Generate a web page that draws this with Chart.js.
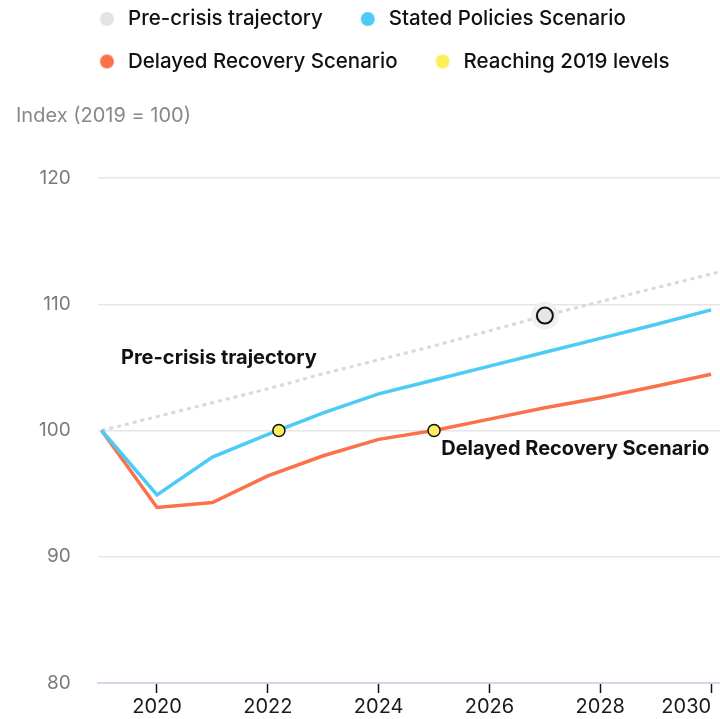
<!DOCTYPE html>
<html>
<head>
<meta charset="utf-8">
<script src="https://cdn.jsdelivr.net/npm/chart.js@4.4.1/dist/chart.umd.min.js"></script>
<style>
  html, body { margin: 0; padding: 0; background: #fff; overflow: hidden; }
  #wrap { width: 720px; height: 719px; }
  canvas { display: block; }
</style>
</head>
<body>
<div id="wrap"><canvas id="myChart"></canvas></div>
<script>
// years on the x axis (pre-crisis runs one year past the edge so it reaches the border)
const years = [2019, 2020, 2021, 2022, 2023, 2024, 2025, 2026, 2027, 2028, 2029, 2030, 2031];
const preCrisis = [100, 101.1, 102.2, 103.3, 104.5, 105.6, 106.7, 107.9, 109.1, 110.2, 111.3, 112.4, 113.5];
const statedPolicies = [100, 94.9, 97.9, 99.7, 101.4, 102.9, 104.0, 105.1, 106.2, 107.3, 108.4, 109.55];
const delayedRecovery = [100, 93.9, 94.3, 96.4, 98.0, 99.3, 100.0, 100.9, 101.8, 102.6, 103.5, 104.45];

// points where the scenarios get back to 2019 levels
const reachYears = [2022.2, 2025];
const reachValues = [100, 100];

// highlighted pre-crisis point (2027)
const highlightYear = 2027;

const xTicks = [2020, 2022, 2024, 2026, 2028, 2030];
const yTicks = [80, 90, 100, 110, 120];

const seriesNames = ['Pre-crisis trajectory', 'Stated Policies Scenario', 'Delayed Recovery Scenario', 'Reaching 2019 levels'];
const legendColors = ['#e3e3e3', '#4ccbf7', '#fb7149', '#fbef5a'];

const FONT = 'Inter, "Open Sans", sans-serif';

function toPoints(values) {
    return values.map((v, i) => ({ x: years[i], y: v }));
}

// legend dot drawn a little to the right inside its box, so the gap before it is wider
function makeDot(color) {
    const c = document.createElement('canvas');
    c.width = 30;
    c.height = 16;
    const g = c.getContext('2d');
    g.fillStyle = color;
    g.beginPath();
    g.arc(21.1, 8, 7, 0, Math.PI * 2);
    g.fill();
    return c;
}
const legendDots = legendColors.map(makeDot);

// labels written next to the lines
const lineLabels = {
    id: 'lineLabels',
    afterDatasetsDraw(chart, args, opts) {
        const { ctx, scales: { x, y } } = chart;
        ctx.save();
        ctx.font = '700 20px ' + FONT;
        ctx.fillStyle = '#111';
        ctx.textBaseline = 'middle';
        ctx.textAlign = 'left';
        opts.items.forEach(item => {
            ctx.fillText(item.text, x.getPixelForValue(item.x), y.getPixelForValue(item.y));
        });
        ctx.restore();
    }
};

// move the legend so both rows start under each other at the left
const legendShift = {
    id: 'legendShift',
    beforeDraw(chart) {
        chart.legend.left = 62;
        chart.legend.top = -13.25;
    }
};

const highlightIndex = years.indexOf(highlightYear);

const ctx = document.getElementById('myChart');
const myChart = new Chart(ctx, {
    type: 'line',
    data: {
        datasets: [
            {
                label: seriesNames[0],
                data: toPoints(preCrisis),
                borderColor: '#d9d9d9',
                borderWidth: 3,
                borderDash: [4, 4],
                pointRadius: c => c.dataIndex === highlightIndex ? 8 : 0,
                pointBackgroundColor: '#e6e6e6',
                pointBorderColor: '#111',
                pointBorderWidth: 2,
                order: 4
            },
            {
                label: seriesNames[1],
                data: toPoints(statedPolicies),
                borderColor: legendColors[1],
                backgroundColor: legendColors[1],
                borderWidth: 3.5,
                pointRadius: 0,
                order: 2
            },
            {
                label: seriesNames[2],
                data: toPoints(delayedRecovery),
                borderColor: legendColors[2],
                backgroundColor: legendColors[2],
                borderWidth: 3.5,
                pointRadius: 0,
                order: 3
            },
            {
                label: seriesNames[3],
                type: 'scatter',
                data: reachYears.map((x, i) => ({ x, y: reachValues[i] })),
                backgroundColor: legendColors[3],
                borderColor: '#111',
                borderWidth: 1.5,
                pointRadius: 6,
                order: 1
            },
            {
                label: 'halo',
                type: 'scatter',
                data: [{ x: highlightYear, y: preCrisis[highlightIndex] }],
                backgroundColor: '#f0f0f0',
                borderWidth: 0,
                pointRadius: 14,
                order: 10
            }
        ]
    },
    options: {
        responsive: true,
        maintainAspectRatio: false,
        animation: false,
        layout: { autoPadding: false, padding: { left: 16, right: 0, top: 0, bottom: 0 } },
        scales: {
            x: {
                type: 'linear',
                min: 2018.93,
                max: 2030.16,
                afterBuildTicks: axis => {
                    axis.ticks = [2019].concat(xTicks).map(v => ({ value: v }));
                },
                afterFit: axis => {
                    axis.paddingLeft = 0;
                    axis.paddingRight = 0;
                    axis.height = 36;
                },
                grid: {
                    color: 'transparent',
                    tickColor: c => (c.tick && c.tick.value === 2019) ? 'transparent' : '#111',
                    tickLength: 10,
                    tickWidth: 1.5
                },
                border: { color: '#cfd8e8', width: 2 },
                ticks: {
                    autoSkip: false,
                    maxRotation: 0,
                    align: 'inner',
                    padding: 2,
                    color: '#1a1a1a',
                    font: { family: FONT, size: 20 },
                    callback: v => v === 2019 ? '' : String(v)
                }
            },
            y: {
                min: 80,
                max: 120,
                afterBuildTicks: axis => {
                    axis.ticks = yTicks.map(v => ({ value: v }));
                },
                afterFit: axis => {
                    axis.width = 81.7;
                    axis.paddingTop = 0;
                    axis.paddingBottom = 0;
                },
                grid: { color: '#e6e6e6', lineWidth: 1.5, drawTicks: false },
                border: { display: false },
                ticks: {
                    padding: 27,
                    color: '#7a7a7a',
                    font: { family: FONT, size: 19 }
                }
            }
        },
        plugins: {
            legend: {
                position: 'top',
                align: 'start',
                labels: {
                    usePointStyle: true,
                    pointStyleWidth: 33.75,
                    boxHeight: 10,
                    padding: 22,
                    color: '#111',
                    font: { family: FONT, size: 20.5, weight: '500' },
                    filter: item => item.datasetIndex < 4,
                    sort: (a, b) => a.datasetIndex - b.datasetIndex,
                    generateLabels: chart => {
                        const items = Chart.defaults.plugins.legend.labels.generateLabels(chart);
                        items.forEach(item => {
                            if (item.datasetIndex < 4) {
                                item.fillStyle = legendColors[item.datasetIndex];
                                item.strokeStyle = legendColors[item.datasetIndex];
                                item.lineWidth = 0;
                                item.lineDash = [];
                                item.pointStyle = legendDots[item.datasetIndex];
                            }
                        });
                        return items;
                    }
                }
            },
            title: {
                display: true,
                text: 'Index (2019 = 100)',
                align: 'start',
                weight: 500,
                color: '#888888',
                font: { family: FONT, size: 20, weight: '400' },
                padding: { top: 9, bottom: 50 }
            },
            tooltip: { enabled: false },
            lineLabels: {
                items: [
                    { text: 'Pre-crisis trajectory', x: 2019.35, y: 105.78 },
                    { text: 'Delayed Recovery Scenario', x: 2025.13, y: 98.57 }
                ]
            }
        }
    },
    plugins: [lineLabels, legendShift]
});
</script>
</body>
</html>
